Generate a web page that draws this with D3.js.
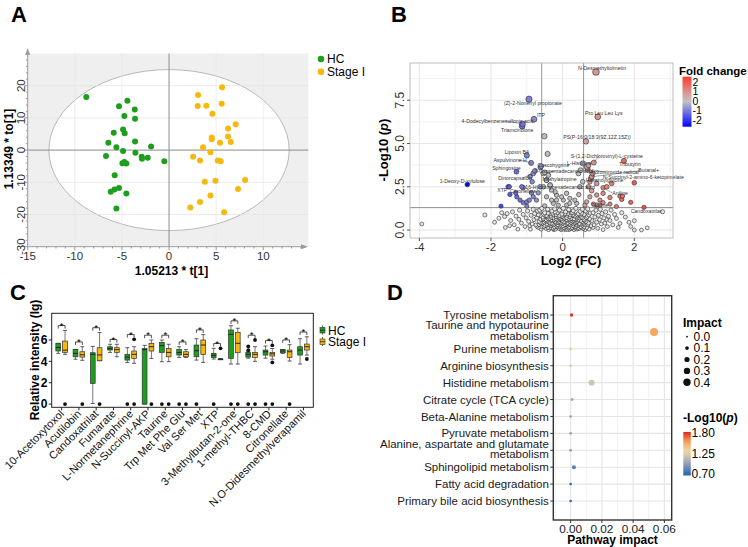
<!DOCTYPE html>
<html>
<head>
<meta charset="utf-8">
<script src="https://cdn.jsdelivr.net/npm/d3@7"></script>
<style>
  body { margin: 0; background: #fff; }
  svg { font-family: "Liberation Sans", Arial, sans-serif; }
</style>
</head>
<body>
<svg id="fig" width="748" height="547"></svg>
<script>
// ---------- A: OPLS-DA scores ----------
const hcT  = [-8.78,-4.42,-5.31,-3.64,-4.74,-3.61,-4.88,-5.87,-4.71,-3.61,-6.44,-5.59,-1.91,-4.88,-3.57,-6.69,-2.90,-2.26,-2.87,-0.50,-4.95,-4.74,-4.53,-5.77,-5.31,-5.80,-6.19,-4.53,-5.59];
const hcTo = [16.5,15.3,13.6,12.6,10.6,9.7,6.4,5.4,5.2,2.7,2.3,0.9,1.1,-0.3,-0.8,-1.8,-2.1,-2.4,-2.7,-3.5,-4.1,-3.7,-4.2,-7.8,-11.8,-12.2,-12.9,-13.5,-18.1];
const stT  = [5.63,3.08,5.59,3.04,3.96,4.60,7.08,6.26,4.53,6.26,4.53,6.55,5.41,3.61,4.39,2.55,3.29,5.17,5.48,8.07,4.92,3.79,7.32,4.39,3.29,2.26,5.84];
const stTo = [19.5,17.1,14.4,13.7,13.8,11.3,8.0,6.7,3.9,4.2,3.4,2.5,2.3,0.9,-0.7,-2.1,-3.2,-3.2,-3.5,-9.3,-9.5,-9.8,-12.1,-14.1,-16.1,-17.8,-19.3];
const ellipseT2 = [12.75, 25];

// ---------- B: volcano ----------
const volcanoPts = [
  // left, significant
  [-1.52,2.5],[-1.47,2.06],[-1.31,2.15],[-1.14,2.5],[-1.19,1.73],[-1.1,1.58],[-1.0,1.63],[-0.87,2.15],[-0.93,1.73],[-0.82,1.92],
  [-0.73,1.73],[-0.68,2.15],[-0.63,2.5],[-0.85,2.79],[-1.72,1.38],[-1.0,1.38],[-1.28,1.92],[-0.91,3.08],[-0.77,3.42],[-0.6,3.69],
  // right, significant
  [0.81,2.27],[0.95,2.02],[1.04,1.73],[0.76,1.92],[1.13,2.12],[1.32,1.88],[1.37,2.69],[1.6,1.96],[1.65,1.77],[1.67,1.96],
  [1.9,1.6],[1.5,1.36],[1.13,1.58],[1.32,1.5],[0.67,1.63],[0.72,2.5],[0.81,3.08],[0.67,3.65],[0.72,3.75],[0.84,3.27],
  [1.04,1.44],[0.86,1.5],[0.62,1.44],[0.95,2.69],[1.23,2.5],[0.76,2.79],
  // centre, above threshold
  [-0.51,5.42],[-0.42,4.4],[-0.54,3.27],[-0.4,3.17],[-0.45,2.88],[-0.35,2.6],[-0.54,2.5],[-0.31,2.31],[-0.21,2.21],[-0.17,2.02],
  [-0.03,1.92],[0.11,2.12],[0.48,2.5],[0.56,2.79],[0.44,3.27],[0.5,3.46],[0.56,3.85],[0.34,1.73],[0.2,1.54],[0.02,1.73],
  [-0.45,1.92],[-0.31,1.73],[-0.12,1.44],[0.11,1.44],[0.39,1.54],[-0.26,1.54],[-0.17,1.73],[0.2,1.83],[0.45,2.05],[-0.5,1.4],
  // cloud, not significant
  [-1.78,0.68],[-1.62,0.78],[-1.55,0.95],[-1.45,0.55],[-1.4,1.05],[-1.35,0.3],[-1.3,0.8],[-1.22,0.62],[-1.2,1.15],[-1.15,0.4],
  [-1.1,0.9],[-1.05,0.2],[-1.02,0.7],[-0.98,1.1],[-0.95,0.5],[-0.9,0.05],[-0.88,0.85],[-0.85,0.35],[-0.82,1.2],[-0.8,0.6],
  [-1.6,0.15],[-1.25,0.05],[-0.92,0.25],[-1.7,1.0],[-1.48,0.25],
  [-0.78,0.95],[-0.75,0.3],[-0.72,0.7],[-0.7,1.1],[-0.68,0.15],[-0.65,0.5],[-0.62,0.85],[-0.6,0.05],[-0.58,1.25],[-0.56,0.4],
  [-0.55,0.75],[-0.52,0.2],[-0.5,1.0],[-0.49,0.55],[-0.47,0.1],[-0.45,0.85],[-0.44,0.35],[-0.42,1.2],[-0.4,0.65],[-0.39,0.02],
  [-0.37,0.45],[-0.35,0.95],[-0.34,0.25],[-0.32,0.75],[-0.3,1.1],[-0.29,0.12],[-0.27,0.55],[-0.25,0.88],[-0.24,0.32],[-0.22,1.22],
  [-0.2,0.05],[-0.19,0.68],[-0.17,0.42],[-0.15,1.0],[-0.14,0.18],[-0.12,0.8],[-0.1,0.5],[-0.09,1.15],[-0.07,0.28],[-0.05,0.62],
  [-0.04,0.02],[-0.02,0.92],[0.0,0.4],[0.02,1.25],[0.03,0.15],[0.05,0.7],[0.07,0.48],[0.08,1.05],[0.1,0.22],[0.12,0.85],
  [0.13,0.05],[0.15,0.58],[0.17,1.18],[0.18,0.35],[0.2,0.78],[0.22,0.1],[0.24,0.98],[0.25,0.45],[0.27,0.65],[0.29,0.25],
  [0.3,1.12],[0.32,0.02],[0.34,0.82],[0.35,0.5],[0.37,1.25],[0.39,0.3],[0.4,0.7],[0.42,0.12],[0.44,0.95],[0.45,0.55],
  [0.47,0.38],[0.49,1.08],[0.5,0.2],[0.52,0.75],[0.54,0.48],[0.55,1.2],[0.57,0.08],[0.59,0.62],[0.6,0.9],[0.62,0.3],
  [0.64,1.1],[0.65,0.5],[0.67,0.15],[0.69,0.8],[0.7,1.22],[0.72,0.4],[0.74,0.05],[0.75,0.65],[0.77,0.98],[0.79,0.25],
  [-0.66,0.32],[-0.61,0.62],[-0.53,0.92],[-0.46,0.6],[-0.41,0.15],[-0.36,0.68],[-0.31,0.4],[-0.26,0.08],[-0.21,0.5],[-0.18,0.9],
  [-0.13,0.3],[-0.08,0.72],[-0.06,0.1],[-0.01,0.55],[0.01,0.25],[0.04,0.88],[0.09,0.6],[0.11,0.38],[0.14,0.95],[0.16,0.12],
  [0.19,0.52],[0.21,0.3],[0.23,0.68],[0.26,0.15],[0.28,0.88],[0.31,0.58],[0.33,0.2],[0.36,0.4],[0.38,0.62],[0.41,0.88],
  [0.43,0.25],[0.46,0.08],[0.48,0.7],[0.51,0.35],[0.53,0.98],[0.56,0.28],[0.58,0.45],[-0.23,0.62],[-0.16,0.22],[-0.11,0.42],
  [-0.03,0.78],[0.06,0.32],[0.12,0.6],[-0.33,0.55],[-0.28,0.98],[-0.43,0.78],[0.02,0.05],[-0.09,0.2],[0.18,0.02],[0.35,0.12],
  [-0.5,0.28],[0.6,0.18],[-0.57,0.6],
  [-0.58,0.18],[-0.54,0.66],[-0.51,0.45],[-0.48,0.82],[-0.46,0.25],[-0.43,0.55],[-0.41,0.98],[-0.38,0.3],[-0.36,0.12],[-0.33,0.85],
  [-0.31,0.6],[-0.28,0.35],[-0.26,0.72],[-0.23,0.18],[-0.21,1.05],[-0.19,0.28],[-0.16,0.62],[-0.14,0.45],[-0.11,0.1],[-0.09,0.85],
  [-0.07,0.38],[-0.04,0.65],[-0.02,0.22],[0.0,0.8],[0.03,0.48],[0.05,0.12],[0.07,0.95],[0.09,0.3],[0.11,0.72],[0.14,0.42],
  [0.16,0.68],[0.18,0.18],[0.21,0.88],[0.23,0.45],[0.25,0.08],[0.27,1.02],[0.3,0.35],[0.32,0.65],[0.34,0.42],[0.37,0.2],
  [0.39,0.78],[0.41,0.5],[0.44,0.62],[0.46,0.32],[0.49,0.85],[0.51,0.55],[0.54,0.15],[0.56,0.72],[0.59,0.38],[0.61,0.58],
  [-0.62,0.42],[-0.68,0.88],[-0.72,0.22],[-0.64,1.15],[0.66,0.72],[0.7,0.32],[0.73,0.88],[0.63,0.02],[-0.25,0.02],[0.08,0.02],
  [-0.12,0.58],[0.13,0.28],[-0.35,0.38],[0.28,0.52],[-0.05,0.45],[0.2,0.62],[-0.18,0.78],[0.4,0.05],[-0.45,0.48],[0.47,0.92],
  [0.82,0.55],[0.85,1.0],[0.88,0.3],[0.9,0.75],[0.93,1.15],[0.95,0.45],[0.98,0.1],[1.0,0.85],[1.03,0.6],[1.05,1.2],
  [1.08,0.35],[1.1,0.95],[1.13,0.02],[1.15,0.7],[1.18,0.4],[1.2,1.05],[1.25,0.2],[1.28,0.8],[1.32,0.55],[1.35,1.15],
  [1.4,0.3],[1.45,0.9],[1.5,0.67],[1.55,0.15],[1.6,0.38],[1.65,1.0],[1.75,0.75],[1.85,0.45],[2.0,0.54],[2.0,0.0],
  [2.2,0.0],[2.36,0.13],[1.9,0.2],[0.85,0.15],[1.22,0.62],
  [-3.93,0.35],[-2.17,0.87],[2.79,1.06],[-1.9,0.45]
];
const namedMetab = ["N-Desmethyltolmetin","(Z)-2-Nonenyl propionate","Pro Leu Leu Lys","ITP","4-Dodecylbenzenesulfonic acid",
  "Triamcinolone","PS(P-16:0/18:3(9Z,12Z,15Z))","Lipoxin B4","Aspulvinone H","Cuscohygrine","L-Histidine",
  "S-(1,2-Dichlorovinyl)-L-cysteine","Tributyrin","Sphingosine","3-Oxopentadecanoic acid","Hydronitroxide radical",
  "Butanal+","Dinorcapsaicin","Methylatropine","1-Deoxy-D-xylulose","Hexanoylglycine","N-Succinyl-2-amino-6-ketopimelate",
  "XTP","Citronellate","16-Hydroxyhexadecanoic acid","Aniline","Taurine","Candoxatrilat"];
const namedFC = [0.93,-0.94,0.98,-0.80,-1.12,-1.13,0.65,-1.00,-0.88,-0.62,0.69,0.87,1.71,-1.29,-0.50,0.70,0.81,-0.82,-0.45,-2.66,0.78,2.00,-1.49,-1.10,-0.35,1.13,0.95,2.27];
const namedP  = [9.13,7.56,6.54,6.40,6.13,6.00,5.12,4.31,3.88,3.62,3.60,3.90,4.00,3.37,3.33,3.50,3.08,3.27,2.88,2.63,2.95,2.73,2.50,2.45,2.60,2.44,1.45,1.31];
// label offsets (px) for the repelled text
const labelNudge = [[6,-4],[4,4.5],[6,-3.5],[7,-3.5],[-25,-3],[-5,4.5],[11,-4],[-10,-3],[-21,-3],[13,-2.5],[-8,-4.5],
  [13,-6.5],[6,4],[-10,-3],[19,-1.5],[26,2.5],[57,-6],[-18,4.5],[13,-1],[-5,-3],[14,1.5],[9,-5],[-7,4],[0,4],[10,2],[17,5],[3,0],[2,3.5]];
const fcCut = 0.585, pCut = 1.3;
const fcTicks = [2, 1, 0, -1, -2];

// ---------- C: box plots ----------
const metabolites = ["10-Acetoxytoxol","Acutilobin","Candoxatrilat","Fumarate","L-Normetanephrine","N-Succinyl-AKP","Taurine",
  "Trp Met Phe Glu","Val Ser Met","XTP","3-Methylbutan-2-one","1-methyl-THBC","8-CMD","Citronellate","N,O-Didesmethylverapamil"];
// [min, q1, median, q3, max]
const hcBox = [[4.75,4.97,5.3,5.69,5.69],[4.2,4.43,4.75,5.12,5.12],[0.05,1.94,4.66,4.81,5.4],[4.84,5.06,5.2,5.37,5.6],
  [3.9,4.12,4.4,4.66,5.28],[0.0,0.0,5.1,5.2,5.5],[3.97,4.84,5.47,5.78,6.0],[4.37,4.59,4.84,5.12,5.37],[4.12,4.43,5.0,5.53,6.12],
  [4.22,4.37,4.56,4.75,5.22],[3.75,4.28,6.53,6.94,7.34],[4.3,4.4,4.66,4.84,4.9],[4.3,4.59,4.9,5.06,5.44],[4.75,4.8,4.97,5.1,5.1],
  [3.75,4.59,5.06,5.37,6.12]];
const stBox = [[4.66,4.84,5.05,5.9,6.9],[4.1,4.4,4.62,4.9,5.37],[4.06,4.06,4.6,5.28,6.7],[4.43,4.84,5.1,5.28,5.6],
  [3.82,4.28,4.66,4.97,5.37],[4.28,4.97,5.37,5.69,6.0],[3.97,4.43,4.84,5.2,5.6],[4.37,4.43,4.66,4.9,5.1],[3.9,4.66,5.53,6.0,6.5],
  [4.22,4.22,4.22,4.22,4.22],[3.75,4.81,5.69,6.69,7.1],[4.0,4.37,4.66,4.84,5.37],[4.2,4.5,4.7,4.84,5.2],[4.03,4.37,4.9,5.06,5.56],
  [4.59,5.06,5.37,5.62,6.3]];
const hcOut = [[],[],[],[],[0],[],[0],[0],[0],[0],[0],[5.4,5.05,0],[0],[],[]];
const stOut = [[0],[0],[0],[],[6.06,0],[0],[0],[0],[],[5.22],[0],[6.0,0],[5.5,3.9,0],[0],[4.22]];
const groups = ["HC", "Stage I"];

// ---------- D: pathway enrichment ----------
const pathways = ["Tyrosine metabolism","Taurine and hypotaurine\nmetabolism","Purine metabolism","Arginine biosynthesis",
  "Histidine metabolism","Citrate cycle (TCA cycle)","Beta-Alanine metabolism","Pyruvate metabolism",
  "Alanine, aspartate and glutamate\nmetabolism","Sphingolipid metabolism","Fatty acid degradation","Primary bile acid biosynthesis"];
const pathImpact = [0.0006,0.0534,0.0,0.0,0.0134,0.0009,0.0,0.0,0.0,0.0021,0.0,0.0];
const pathSize   = [0.085,0.47,0.05,0.05,0.26,0.06,0.05,0.05,0.05,0.12,0.05,0.05];
const pathLogP   = [1.80,1.55,1.42,1.20,1.18,1.02,0.98,0.98,0.93,0.82,0.72,0.70];
const sizeTicks = [0.0, 0.1, 0.2, 0.3, 0.4];
const pTicks = [0.70, 1.25, 1.80];

const green = "#1d9e1d", gold = "#f6b80c";
const svg = d3.select("#fig");

function letter(t, x, y) {
  svg.append("text").attr("x", x).attr("y", y).attr("font-size", 22).attr("font-weight", "bold").text(t);
}
letter("A", 11, 22); letter("B", 391, 22); letter("C", 10, 300); letter("D", 387, 300);

// ================= A =================
(function () {
  const x = d3.scaleLinear().domain([-15, 15]).range([27.7, 310.4]);
  const y = d3.scaleLinear().domain([-30, 30]).range([246.7, 53.5]);
  const g = svg.append("g");
  g.append("rect").attr("x", x(-15)).attr("y", y(30)).attr("width", 308.3 - x(-15)).attr("height", y(-30) - y(30)).attr("fill", "#efefef");
  g.append("ellipse").attr("cx", x(0)).attr("cy", y(0))
    .attr("rx", x(ellipseT2[0]) - x(0)).attr("ry", y(0) - y(ellipseT2[1]))
    .attr("fill", "#fff").attr("stroke", "#a8a8a8").attr("stroke-width", 0.8);
  [-20, -10, 10, 20].forEach(v => g.append("line").attr("x1", x(-15)).attr("x2", 308.3).attr("y1", y(v)).attr("y2", y(v))
    .attr("stroke", "#e3e3e3").attr("stroke-width", 0.7));
  [-10, -5, 5, 10].forEach(v => g.append("line").attr("x1", x(v)).attr("x2", x(v)).attr("y1", y(30)).attr("y2", y(-30))
    .attr("stroke", "#e6e6e6").attr("stroke-width", 0.7));
  g.append("line").attr("x1", x(0)).attr("x2", x(0)).attr("y1", y(30)).attr("y2", y(-30)).attr("stroke", "#8c8c8c");
  g.append("line").attr("x1", x(-15)).attr("x2", 308.3).attr("y1", y(0)).attr("y2", y(0)).attr("stroke", "#8c8c8c");

  // axes with arrows
  const ac = "#9a9a9a";
  g.append("line").attr("x1", x(-15)).attr("x2", x(-15)).attr("y1", y(-30)).attr("y2", 50).attr("stroke", ac);
  g.append("path").attr("d", `M${x(-15) - 2.5},${55} L${x(-15)},${48} L${x(-15) + 2.5},${55}Z`).attr("fill", ac);
  g.append("line").attr("x1", x(-15)).attr("x2", 306).attr("y1", y(-30)).attr("y2", y(-30)).attr("stroke", ac);
  g.append("path").attr("d", `M${301},${y(-30) - 2.5} L${308},${y(-30)} L${301},${y(-30) + 2.5}Z`).attr("fill", ac);
  d3.range(-15, 15).forEach(v => g.append("line").attr("x1", x(v)).attr("x2", x(v)).attr("y1", y(-30))
    .attr("y2", y(-30) + (v % 5 === 0 ? 3.5 : 1.8)).attr("stroke", ac));
  d3.range(-30, 30, 2).forEach(v => g.append("line").attr("y1", y(v)).attr("y2", y(v)).attr("x1", x(-15))
    .attr("x2", x(-15) - (v % 10 === 0 ? 3.5 : 1.8)).attr("stroke", ac));
  [-15, -10, -5, 0, 5, 10].forEach(v => g.append("text").attr("x", x(v)).attr("y", 260).attr("text-anchor", "middle")
    .attr("font-size", 11.5).attr("fill", "#333").text(v));
  [-30, -20, -10, 0, 10, 20].forEach(v => g.append("text").attr("transform", `translate(25,${y(v)}) rotate(-90)`)
    .attr("text-anchor", "middle").attr("font-size", 11.5).attr("fill", "#333").text(v));
  g.append("text").attr("x", 171.5).attr("y", 275).attr("text-anchor", "middle").attr("font-size", 12)
    .attr("font-weight", "bold").text("1.05213 * t[1]");
  g.append("text").attr("transform", "translate(12.5,149) rotate(-90)").attr("text-anchor", "middle").attr("font-size", 12)
    .attr("font-weight", "bold").text("1.13349 * to[1]");

  g.selectAll(".hc").data(d3.zip(hcT, hcTo)).enter().append("circle")
    .attr("cx", d => x(d[0])).attr("cy", d => y(d[1])).attr("r", 3).attr("fill", green);
  g.selectAll(".st").data(d3.zip(stT, stTo)).enter().append("circle")
    .attr("cx", d => x(d[0])).attr("cy", d => y(d[1])).attr("r", 3).attr("fill", gold);

  groups.forEach((s, i) => {
    g.append("circle").attr("cx", 321).attr("cy", 59 + i * 12.7).attr("r", 3.3).attr("fill", i ? gold : green);
    g.append("text").attr("x", 327).attr("y", 63 + i * 12.7).attr("font-size", 12).text(s);
  });
})();

// ================= B =================
(function () {
  const x = d3.scaleLinear().domain([-4.26, 3.08]).range([410, 673]);
  const y = d3.scaleLinear().domain([-0.46, 9.65]).range([238, 63]);
  const col = d3.scaleLinear().domain([-2.7, 0, 2.6]).range(["#0000ff", "#c6c6c6", "#ff3b2f"]);
  const g = svg.append("g");
  const x0 = x.range()[0], x1 = x.range()[1], y0 = y.range()[1], y1 = y.range()[0];
  [-3, -1, 1, 3].forEach(v => g.append("line").attr("x1", x(v)).attr("x2", x(v)).attr("y1", y0).attr("y2", y1).attr("stroke", "#f2f2f2"));
  [1.25, 3.75, 6.25, 8.75].forEach(v => g.append("line").attr("y1", y(v)).attr("y2", y(v)).attr("x1", x0).attr("x2", x1).attr("stroke", "#f2f2f2"));
  [-4, -2, 0, 2].forEach(v => g.append("line").attr("x1", x(v)).attr("x2", x(v)).attr("y1", y0).attr("y2", y1).attr("stroke", "#e6e6e6"));
  [0, 2.5, 5, 7.5].forEach(v => g.append("line").attr("y1", y(v)).attr("y2", y(v)).attr("x1", x0).attr("x2", x1).attr("stroke", "#e6e6e6"));
  [-fcCut, fcCut].forEach(v => g.append("line").attr("x1", x(v)).attr("x2", x(v)).attr("y1", y0).attr("y2", y1).attr("stroke", "#8a8a8a").attr("stroke-width", 0.9));
  g.append("line").attr("x1", x0).attr("x2", x1).attr("y1", y(pCut)).attr("y2", y(pCut)).attr("stroke", "#8a8a8a").attr("stroke-width", 0.9);

  const sig = d => d[1] > pCut && Math.abs(d[0]) > fcCut;
  const all = volcanoPts.map(d => ({ x: d[0], y: d[1] }))
    .concat(namedFC.map((v, i) => ({ x: v, y: namedP[i], name: namedMetab[i], nudge: labelNudge[i] })));
  all.sort((a, b) => (sig([a.x, a.y]) - sig([b.x, b.y])) || (a.y - b.y));
  g.selectAll(".pt").data(all).enter().append("circle")
    .attr("cx", d => x(d.x)).attr("cy", d => y(d.y))
    .attr("r", d => 1.9 + Math.min(d.y, 9) * 0.16)
    .attr("fill", d => sig([d.x, d.y]) ? col(d.x) : (d.y > pCut ? "#bdbdbd" : "#e6e6e6"))
    .attr("stroke", "#2a2a2a").attr("stroke-width", 0.6);

  const named = all.filter(d => d.name);
  named.forEach(d => {
    const px = x(d.x), py = y(d.y), lx = px + d.nudge[0], ly = py + d.nudge[1];
    if (Math.hypot(d.nudge[0], d.nudge[1]) > 12)
      g.append("line").attr("x1", px).attr("y1", py).attr("x2", lx - Math.sign(d.nudge[0]) * 8).attr("y2", ly)
        .attr("stroke", "#555").attr("stroke-width", 0.5);
    g.append("text").attr("x", lx).attr("y", ly + 1.7).attr("text-anchor", "middle").attr("font-size", 5.2)
      .attr("fill", "#333").text(d.name);
  });

  g.append("rect").attr("x", x0).attr("y", y0).attr("width", x1 - x0).attr("height", y1 - y0)
    .attr("fill", "none").attr("stroke", "#b5b5b5").attr("stroke-width", 0.9);
  [-4, -2, 0, 2].forEach(v => {
    g.append("line").attr("x1", x(v)).attr("x2", x(v)).attr("y1", y1).attr("y2", y1 + 3).attr("stroke", "#555");
    g.append("text").attr("x", x(v)).attr("y", 250.5).attr("text-anchor", "middle").attr("font-size", 11.5).attr("fill", "#333").text(v);
  });
  [0, 2.5, 5, 7.5].forEach(v => {
    g.append("line").attr("x1", x0 - 3).attr("x2", x0).attr("y1", y(v)).attr("y2", y(v)).attr("stroke", "#555");
    g.append("text").attr("transform", `translate(403.5,${y(v)}) rotate(-90)`).attr("text-anchor", "middle")
      .attr("font-size", 12).attr("fill", "#333").text(v.toFixed(1));
  });
  g.append("text").attr("x", 571).attr("y", 264.5).attr("text-anchor", "middle").attr("font-size", 13)
    .attr("font-weight", "bold").text("Log2 (FC)");
  const yt = g.append("text").attr("transform", "translate(388,150) rotate(-90)").attr("text-anchor", "middle")
    .attr("font-size", 13).attr("font-weight", "bold");
  yt.append("tspan").text("-Log10 (");
  yt.append("tspan").attr("font-style", "italic").text("p");
  yt.append("tspan").text(")");

  // colour bar
  const bar = d3.scaleLinear().domain([-2.7, 2.6]).range([126.7, 76.7]);
  const grad = svg.append("defs").append("linearGradient").attr("id", "fcGrad")
    .attr("x1", 0).attr("y1", 1).attr("x2", 0).attr("y2", 0);
  d3.range(0, 1.0001, 0.1).forEach(t => grad.append("stop").attr("offset", t)
    .attr("stop-color", col(-2.7 + t * 5.3)));
  g.append("text").attr("x", 679).attr("y", 75).attr("font-size", 11.5).attr("font-weight", "bold").text("Fold change");
  g.append("rect").attr("x", 682.5).attr("y", bar(2.6)).attr("width", 9).attr("height", bar(-2.7) - bar(2.6)).attr("fill", "url(#fcGrad)");
  fcTicks.forEach(v => g.append("text").attr("x", 692.5).attr("y", bar(v) + 3.6).attr("font-size", 10.5).text(v));
})();

// ================= C =================
(function () {
  const x = d3.scaleBand().domain(metabolites).range([53, 312.1]);
  const y = d3.scaleLinear().domain([-0.3, 8.5]).range([407.3, 313.3]);
  const g = svg.append("g");
  const fills = [green, gold], offs = [-3.4, 3.4];
  metabolites.forEach((m, i) => {
    const cx0 = x(m) + x.bandwidth() / 2;
    [hcBox, stBox].forEach((B, k) => {
      const b = B[i], cx = cx0 + offs[k];
      g.append("line").attr("x1", cx).attr("x2", cx).attr("y1", y(b[0])).attr("y2", y(b[4])).attr("stroke", "#555").attr("stroke-width", 0.8);
      [b[0], b[4]].forEach(v => g.append("line").attr("x1", cx - 2).attr("x2", cx + 2).attr("y1", y(v)).attr("y2", y(v)).attr("stroke", "#333").attr("stroke-width", 0.8));
      g.append("rect").attr("x", cx - 2.4).attr("width", 4.8).attr("y", y(b[3])).attr("height", Math.max(0.8, y(b[1]) - y(b[3])))
        .attr("fill", fills[k]).attr("stroke", "#333").attr("stroke-width", 0.7);
      g.append("line").attr("x1", cx - 2.4).attr("x2", cx + 2.4).attr("y1", y(b[2])).attr("y2", y(b[2])).attr("stroke", "#222").attr("stroke-width", 1);
      [hcOut, stOut][k][i].forEach(v => g.append("circle").attr("cx", cx).attr("cy", y(v)).attr("r", 1.9).attr("fill", "#111"));
    });
    const top = d3.max([hcBox[i][4], stBox[i][4]].concat(hcOut[i], stOut[i])) + 0.45;
    g.append("path").attr("d", `M${cx0 + offs[0]},${y(top - 0.28)} V${y(top)} H${cx0 + offs[1]} V${y(top - 0.28)}`)
      .attr("fill", "none").attr("stroke", "#222").attr("stroke-width", 0.8);
    g.append("text").attr("x", cx0).attr("y", y(top) + 3.2).attr("text-anchor", "middle").attr("font-size", 9.5).text("*");
  });
  g.append("rect").attr("x", 51.7).attr("y", 313.3).attr("width", 261.6).attr("height", 94)
    .attr("fill", "none").attr("stroke", "#222").attr("stroke-width", 1);
  [0, 2, 4, 6].forEach(v => {
    g.append("line").attr("x1", 48.7).attr("x2", 51.7).attr("y1", y(v)).attr("y2", y(v)).attr("stroke", "#222");
    g.append("text").attr("x", 47.5).attr("y", y(v) + 4.3).attr("text-anchor", "end").attr("font-size", 12)
      .attr("font-weight", "bold").text(v);
  });
  metabolites.forEach(m => {
    const cx = x(m) + x.bandwidth() / 2;
    g.append("line").attr("x1", cx).attr("x2", cx).attr("y1", 407.3).attr("y2", 410.3).attr("stroke", "#222");
    g.append("text").attr("transform", `translate(${cx + 3},${414.5}) rotate(-45)`).attr("text-anchor", "end")
      .attr("font-size", 11).attr("fill", "#111").text(m);
  });
  g.append("text").attr("transform", "translate(38.5,360) rotate(-90)").attr("text-anchor", "middle")
    .attr("font-size", 12).attr("font-weight", "bold").text("Relative intensity (lg)");
  groups.forEach((s, i) => {
    const yy = 326.5 + i * 11.5;
    g.append("line").attr("x1", 322.5).attr("x2", 322.5).attr("y1", yy - 1).attr("y2", yy + 8).attr("stroke", "#333").attr("stroke-width", 0.8);
    g.append("rect").attr("x", 320).attr("y", yy + 1).attr("width", 5).attr("height", 5.5).attr("fill", fills[i]).attr("stroke", "#333").attr("stroke-width", 0.6);
    g.append("line").attr("x1", 320).attr("x2", 325).attr("y1", yy + 3.7).attr("y2", yy + 3.7).attr("stroke", "#222").attr("stroke-width", 0.8);
    g.append("text").attr("x", 328).attr("y", yy + 8.3).attr("font-size", 12).text(s);
  });
})();

// ================= D =================
(function () {
  const x = d3.scaleLinear().domain([-0.0111, 0.0647]).range([553.3, 671.7]);
  const y = d3.scalePoint().domain(pathways).range([315, 501]);
  const col = d3.scaleLinear().domain([0.7, 1.0, 1.3, 1.55, 1.8])
    .range(["#2f6ab3", "#9ea3b3", "#efdcaa", "#f6a85f", "#e22d28"]);
  const rs = d3.scaleSqrt().domain([0, 0.4]).range([0, 3.7]);
  const g = svg.append("g");
  const x0 = 553.3, x1 = 671.7, y0 = 295.7, y1 = 520;
  [-0.01, 0.01, 0.03, 0.05].forEach(v => g.append("line").attr("x1", x(v)).attr("x2", x(v)).attr("y1", y0).attr("y2", y1).attr("stroke", "#f0f0f0"));
  [0, 0.02, 0.04, 0.06].forEach(v => g.append("line").attr("x1", x(v)).attr("x2", x(v)).attr("y1", y0).attr("y2", y1).attr("stroke", "#e4e4e4").attr("stroke-width", 1.1));
  pathways.forEach(p => g.append("line").attr("x1", x0).attr("x2", x1).attr("y1", y(p)).attr("y2", y(p)).attr("stroke", "#e4e4e4").attr("stroke-width", 1.1));
  g.selectAll(".pw").data(pathways).enter().append("circle")
    .attr("cx", (d, i) => x(pathImpact[i])).attr("cy", d => y(d))
    .attr("r", (d, i) => Math.max(0.9, rs(pathSize[i]))).attr("fill", (d, i) => col(pathLogP[i]));
  g.append("rect").attr("x", x0).attr("y", y0).attr("width", x1 - x0).attr("height", y1 - y0)
    .attr("fill", "none").attr("stroke", "#333").attr("stroke-width", 1.4);
  pathways.forEach(p => {
    g.append("line").attr("x1", x0 - 3).attr("x2", x0).attr("y1", y(p)).attr("y2", y(p)).attr("stroke", "#333");
    const lines = p.split("\n");
    const t = g.append("text").attr("text-anchor", "end").attr("font-size", 11.5).attr("fill", "#1a1a1a");
    lines.forEach((l, j) => t.append("tspan").attr("x", x0 - 4.5)
      .attr("y", y(p) + 4.1 + (j - (lines.length - 1) / 2) * 10.6 - (lines.length > 1 ? 1.5 : 0)).text(l));
  });
  [0, 0.02, 0.04, 0.06].forEach(v => {
    g.append("line").attr("x1", x(v)).attr("x2", x(v)).attr("y1", y1).attr("y2", y1 + 3).attr("stroke", "#333");
    g.append("text").attr("x", x(v)).attr("y", 532.5).attr("text-anchor", "middle").attr("font-size", 11.8).attr("fill", "#222").text(v.toFixed(2));
  });
  g.append("text").attr("x", 612.5).attr("y", 543.5).attr("text-anchor", "middle").attr("font-size", 12)
    .attr("font-weight", "bold").text("Pathway impact");

  // size legend
  g.append("text").attr("x", 683).attr("y", 327).attr("font-size", 12).attr("font-weight", "bold").text("Impact");
  sizeTicks.forEach((v, i) => {
    const yy = 336.7 + i * 11.4;
    g.append("circle").attr("cx", 687).attr("cy", yy).attr("r", Math.max(0.9, rs(v))).attr("fill", "#111");
    g.append("text").attr("x", 693.5).attr("y", yy + 4.2).attr("font-size", 12).text(v.toFixed(1));
  });
  // colour legend
  const lt = g.append("text").attr("x", 683).attr("y", 422).attr("font-size", 12).attr("font-weight", "bold");
  lt.append("tspan").text("-Log10(");
  lt.append("tspan").attr("font-style", "italic").text("p");
  lt.append("tspan").text(")");
  const bar = d3.scaleLinear().domain([0.7, 1.8]).range([474, 432.7]);
  const grad = svg.append("defs").append("linearGradient").attr("id", "pGrad")
    .attr("x1", 0).attr("y1", 1).attr("x2", 0).attr("y2", 0);
  d3.range(0, 1.0001, 0.1).forEach(t => grad.append("stop").attr("offset", t).attr("stop-color", col(0.66 + t * 1.16)));
  g.append("rect").attr("x", 683.3).attr("y", bar(1.82)).attr("width", 7.5).attr("height", bar(0.66) - bar(1.82)).attr("fill", "url(#pGrad)");
  pTicks.forEach(v => g.append("text").attr("x", 691.5).attr("y", bar(v) + 4.3).attr("font-size", 12).text(v.toFixed(2)));
})();
</script>
</body>
</html>
